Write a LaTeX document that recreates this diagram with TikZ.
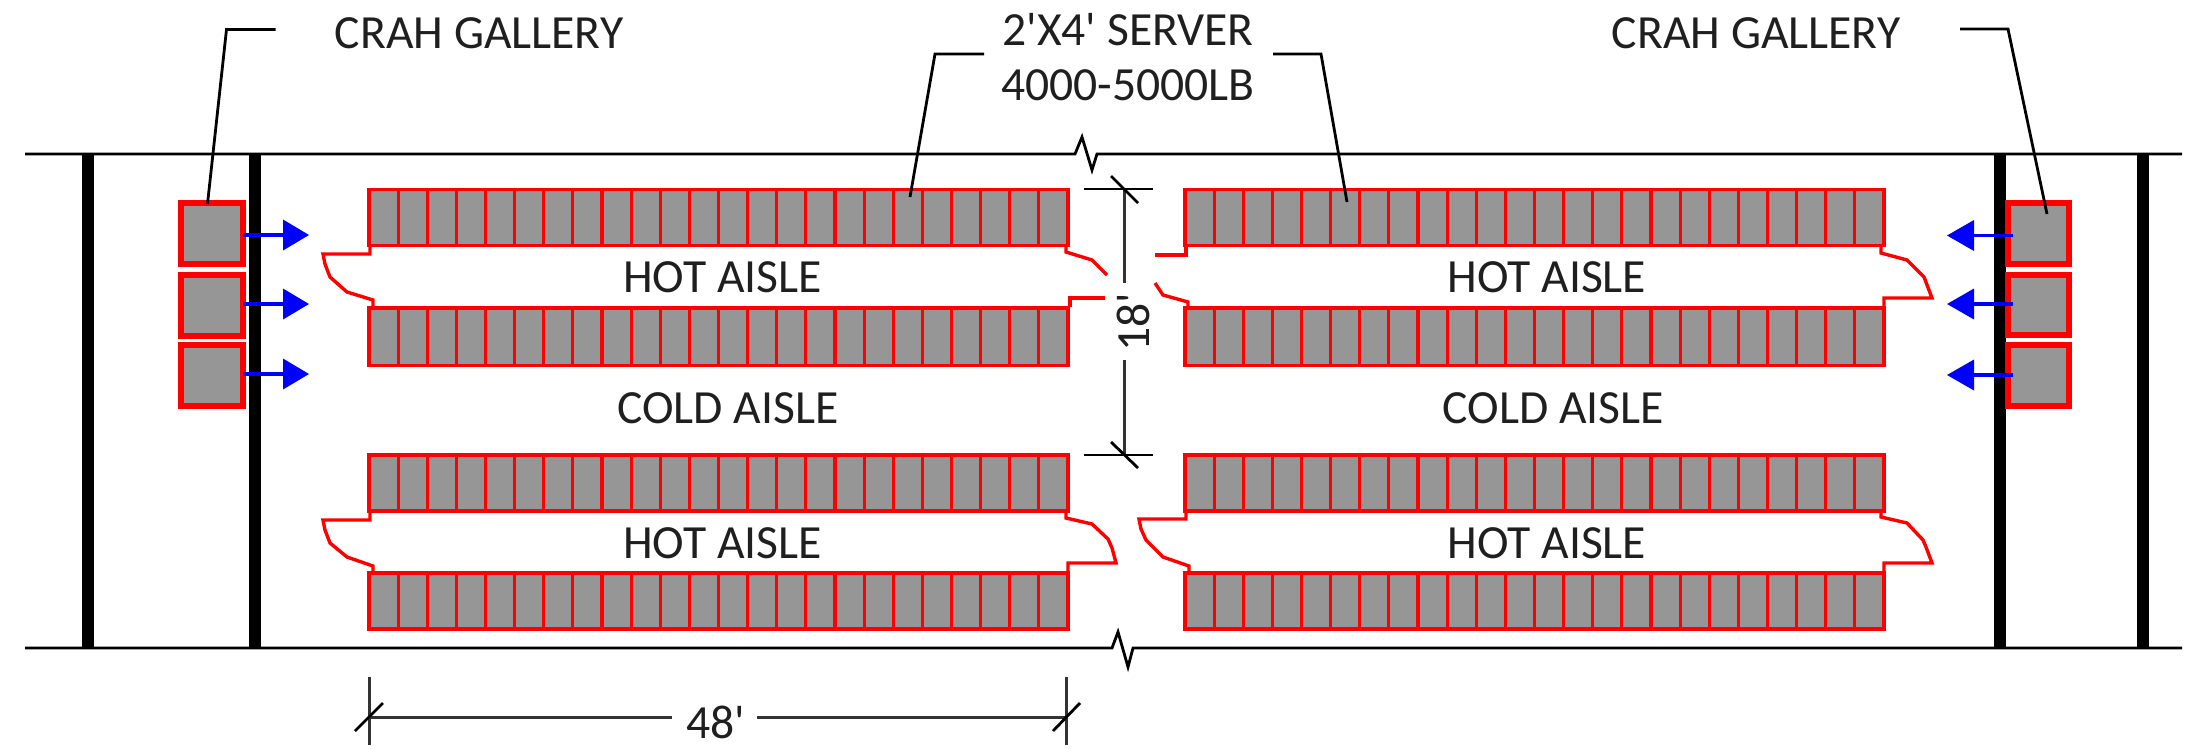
\documentclass[tikz,border=0pt]{standalone}
\usepackage{fontspec}
\newfontfamily\lblfont{Carlito}
\definecolor{srv}{HTML}{969696}
\definecolor{dimc}{HTML}{333333}
\tikzset{
  x=1pt,y=-1pt,
  wallline/.style={draw=black,line width=2.8pt,line join=miter},
  thickwall/.style={draw=black,line width=11.5pt},
  cell/.style={draw=red,fill=srv,line width=3.2pt},
  crah/.style={draw=red,fill=srv,line width=6pt},
  aisle/.style={draw=red,line width=3.4pt,line join=miter},
  flow/.style={draw=blue,line width=3.2pt},
  flowhead/.style={fill=blue},
  leader/.style={draw=black,line width=2.8pt},
  dimline/.style={draw=dimc,line width=3pt},
  label/.style={font=\lblfont\fontsize{47.6}{55}\selectfont,text=black!88,inner sep=0pt,align=center},
}
\newcommand{\srvrow}[3]{% x0, ytop, ybot
  \foreach \i in {0,...,23}{
    \draw[cell] ({#1+\i*29.125},#2) rectangle ({#1+(\i+1)*29.125},#3);
  }
}
\begin{document}
\begin{tikzpicture}
\useasboundingbox (0,0) rectangle (2198,748);
% walls
\draw[thickwall] (88,154) -- (88,648);
\draw[thickwall] (255,154) -- (255,648);
\draw[thickwall] (2000,154) -- (2000,648);
\draw[thickwall] (2143,154) -- (2143,648);
\draw[wallline] (25,154) -- (1075,154) -- (1082,137) -- (1092,170) -- (1097,154) -- (2182,154);
\draw[wallline] (25,648) -- (1112,648) -- (1118,632) -- (1128,667) -- (1133,648) -- (2182,648);
% CRAH left
\draw[crah] (181,203) rectangle (242.5,264);
\draw[crah] (181,274.5) rectangle (242.5,335.5);
\draw[crah] (181,345) rectangle (242.5,406);
% arrows left
\foreach \y in {235,304,374}{
  \draw[flow] (243,\y) -- (285,\y);
  \fill[flowhead] (309,\y) -- (283,\y-15.5) -- (283,\y+15.5) -- cycle;
}
% CRAH right
\draw[crah] (2008,203) rectangle (2068.5,263.5);
\draw[crah] (2008,274.5) rectangle (2068.5,334.5);
\draw[crah] (2008,345) rectangle (2068.5,405.5);
% arrows right
\foreach \y in {235.5,304,375}{
  \draw[flow] (2013,\y) -- (1972,\y);
  \fill[flowhead] (1947,\y) -- (1974,\y-15.5) -- (1974,\y+15.5) -- cycle;
}
% server rows
\srvrow{369}{189.5}{245.5}
\srvrow{369}{308}{365.5}
\srvrow{369}{455}{511}
\srvrow{369}{573}{629}
\srvrow{1185}{189.5}{245.5}
\srvrow{1185}{308}{365.5}
\srvrow{1185}{455}{511}
\srvrow{1185}{573}{629}
% upper hot aisle ends
\draw[aisle] (370,246) -- (370,254) -- (323,254) -- (325,264) -- (330,277) -- (347,292) -- (373,300) -- (373,307);
\draw[aisle] (1066,246) -- (1066,252) -- (1092,260) -- (1107,275);
\draw[aisle] (1105,298) -- (1070,298) -- (1070,307);
\draw[aisle] (1186,246) -- (1186,255) -- (1155,255);
\draw[aisle] (1155,283) -- (1163,295) -- (1188,302) -- (1188,307);
\draw[aisle] (1881,246) -- (1881,253) -- (1907,260) -- (1924,277) -- (1932,298) -- (1884,298) -- (1884,307);
% lower hot aisle ends
\draw[aisle] (370,512) -- (370,520) -- (323,520) -- (325,530) -- (330,543) -- (347,557) -- (373,566) -- (373,573);
\draw[aisle] (1066,512) -- (1066,518) -- (1092,524) -- (1108,539) -- (1112,548) -- (1116,563) -- (1068,563) -- (1068,572);
\draw[aisle] (1186,512) -- (1186,519) -- (1139,519) -- (1141,529) -- (1146,540) -- (1163,557) -- (1189,566) -- (1189,573);
\draw[aisle] (1881,512) -- (1881,517) -- (1907,523) -- (1923,540) -- (1926,547) -- (1932,563) -- (1884,563) -- (1884,572);
% aisle labels
\node[label] (h1) at (722.5,277.5) {HOT AISLE};
\node[label] (h2) at (1547,277.5) {HOT AISLE};
\node[label] (c1) at (728,408) {COLD AISLE};
\node[label] (c2) at (1553.5,408) {COLD AISLE};
\node[label] (h3) at (722.5,543.5) {HOT AISLE};
\node[label] (h4) at (1547,543.5) {HOT AISLE};
% titles
\node[label] (g1) at (479,33) {CRAH GALLERY};
\node[label] (g2) at (1756,33) {CRAH GALLERY};
\node[label] (s) at (1128,57.5) {2'X4' SERVER\\4000-5000LB};
% leaders
\coordinate (g1a) at (275.5,29.5);
\coordinate (g1b) at (226.5,29.5);
\coordinate (g1c) at (207.5,204);
\draw[leader] (g1a) -- (g1b) -- (g1c);
\coordinate (g2a) at (1960,29);
\coordinate (g2b) at (2008,29);
\coordinate (g2c) at (2047,214);
\draw[leader] (g2a) -- (g2b) -- (g2c);
\coordinate (s1a) at (984,54);
\coordinate (s1b) at (935,54);
\coordinate (s1c) at (910,197);
\draw[leader] (s1a) -- (s1b) -- (s1c);
\coordinate (s2a) at (1273,54);
\coordinate (s2b) at (1321,54);
\coordinate (s2c) at (1347,202);
\draw[leader] (s2a) -- (s2b) -- (s2c);
% 18' dimension
\node[label,rotate=90] (d18) at (1133,322) {18'};
\coordinate (d18t) at (1124,189);
\coordinate (d18tm) at (1124,283);
\coordinate (d18bm) at (1124,360);
\coordinate (d18b) at (1124,455);
\draw[dimline] (d18t) -- (d18tm);
\draw[dimline] (d18bm) -- (d18b);
\draw[leader] (1084,189) -- (1153,189);
\draw[leader] (1084,455) -- (1153,455);
\draw[leader] (1111,176) -- (1138,203);
\draw[leader] (1111,442) -- (1138,468);
% 48' dimension
\node[label] (d48) at (716,722) {48'};
\coordinate (d48l) at (369,717);
\coordinate (d48lm) at (672,717);
\coordinate (d48rm) at (757,717);
\coordinate (d48r) at (1066,717);
\draw[dimline] (d48l) -- (d48lm);
\draw[dimline] (d48rm) -- (d48r);
\draw[dimline] (369,677) -- (369,745);
\draw[dimline] (1066,677) -- (1066,745);
\draw[leader] (355,731) -- (383,703);
\draw[leader] (1053,731) -- (1080,703);
\end{tikzpicture}
\end{document}
